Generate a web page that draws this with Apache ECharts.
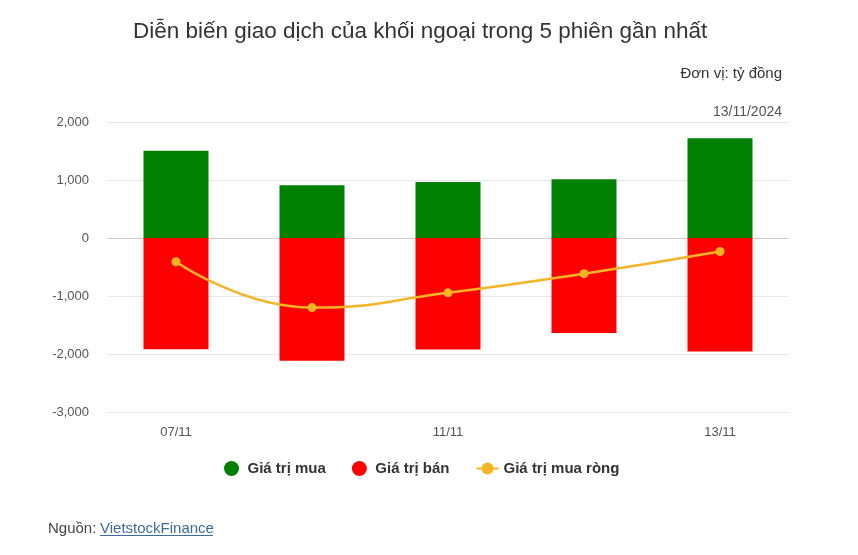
<!DOCTYPE html>
<html>
<head>
<meta charset="utf-8">
<script src="https://cdn.jsdelivr.net/npm/echarts@6/dist/echarts.min.js"></script>
<style>html,body{margin:0;padding:0;background:#fff;}#c{width:858px;height:555px;}</style>
</head>
<body>
<div id="c"></div>
<script>
var categories = ['07/11', '08/11', '11/11', '12/11', '13/11'];
var buyValues = [1503, 909, 966, 1012, 1720];
var sellValues = [-1916, -2117, -1921, -1636, -1955];
var netValues = [-410, -1200, -945, -615, -232];
var yTicks = { min: -3000, max: 2000, interval: 1000 };

var F = '"Liberation Sans", Arial, sans-serif';
var chart = echarts.init(document.getElementById('c'));
chart.setOption({
  backgroundColor: '#fff',
  animation: false,
  textStyle: { fontFamily: F },
  title: [
    { text: 'Diễn biến giao dịch của khối ngoại trong 5 phiên gần nhất', left: 128, top: 15,
      textStyle: { fontFamily: F, fontSize: 22.5, fontWeight: 'normal', color: '#333' } },
    { text: 'Đơn vị: tỷ đồng', right: 71, top: 61,
      textStyle: { fontFamily: F, fontSize: 15, fontWeight: 'normal', color: '#333' } },
    { text: '13/11/2024', right: 71, top: 100,
      textStyle: { fontFamily: F, fontSize: 14, fontWeight: 'normal', color: '#555' } }
  ],
  grid: { left: 108, right: 70, top: 122, bottom: 143 },
  legend: {
    top: 456, left: 219, itemGap: 26, itemWidth: 22, itemHeight: 15,
    textStyle: { fontFamily: F, fontSize: 15, fontWeight: 'bold', color: '#333' },
    data: [
      { name: 'Giá trị mua', icon: 'circle' },
      { name: 'Giá trị bán', icon: 'circle' },
      { name: 'Giá trị mua ròng' }
    ]
  },
  xAxis: {
    type: 'category', data: categories,
    axisLine: { show: true, lineStyle: { color: '#ccc' } },
    axisTick: { show: false },
    axisLabel: { interval: 1, color: '#555', fontSize: 13, margin: 14, fontFamily: F }
  },
  yAxis: {
    type: 'value', min: yTicks.min, max: yTicks.max, interval: yTicks.interval,
    axisLine: { show: false }, axisTick: { show: false },
    axisLabel: { color: '#555', fontSize: 13, margin: 19, fontFamily: F,
      formatter: function (v) { return v.toLocaleString('en-US'); } },
    splitLine: { lineStyle: { color: '#e6e6e6' } }
  },
  series: [
    { name: 'Giá trị mua', type: 'bar', stack: 'a', data: buyValues, barWidth: 65,
      itemStyle: { color: '#008000' } },
    { name: 'Giá trị bán', type: 'bar', stack: 'a', data: sellValues, barWidth: 65,
      itemStyle: { color: '#ff0000' } },
    { name: 'Giá trị mua ròng', type: 'line', data: netValues, smooth: true,
      symbol: 'circle', symbolSize: 9, z: 5,
      lineStyle: { color: '#f6b425', width: 2.5 },
      itemStyle: { color: '#f6b425' } }
  ],
  graphic: [
    { type: 'text', left: 48, top: 521, style: { text: 'Nguồn: ', fontFamily: F, fontSize: 15, fill: '#444' } },
    { type: 'text', left: 100, top: 521, style: { text: 'VietstockFinance', fontFamily: F, fontSize: 15, fill: '#3b6c9a' } },
    { type: 'line', shape: { x1: 100, y1: 535.5, x2: 213, y2: 535.5 }, style: { stroke: '#3b6c9a', lineWidth: 1 } }
  ]
});
</script>
</body>
</html>
